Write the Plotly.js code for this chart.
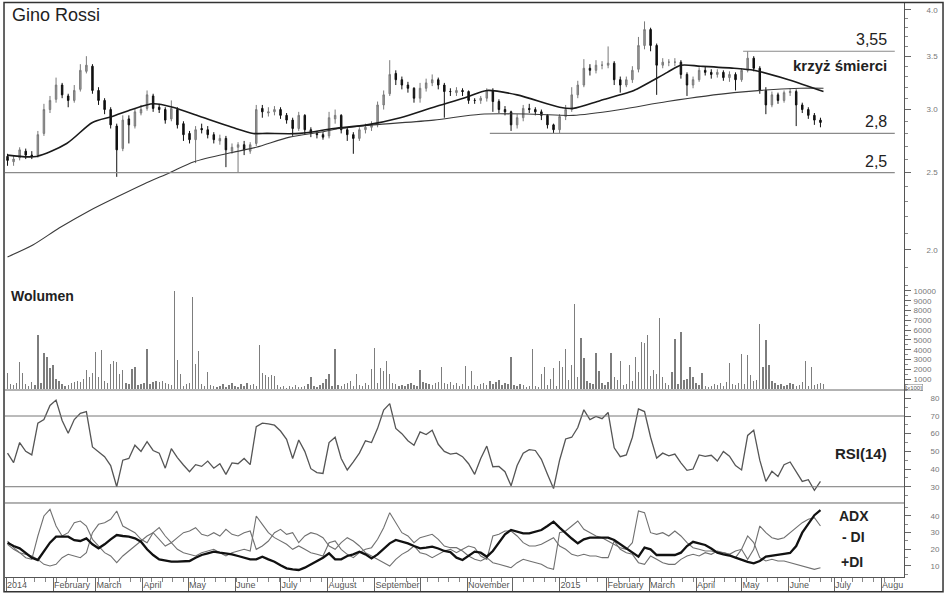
<!DOCTYPE html>
<html><head><meta charset="utf-8">
<script src="https://cdn.plot.ly/plotly-3.0.1.min.js"></script>
<style>html,body{margin:0;padding:0;background:#fff}#chart{width:948px;height:593px}</style>
</head><body><div id="chart"></div>
<script>
// ---- price bars (one bar per 4 calendar days from 2014-01-02) ----
const priceOpen = [2.62,2.58,2.61,2.66,2.63,2.63,2.80,3.00,3.09,3.22,
 3.12,3.08,3.18,3.35,3.40,3.17,3.08,3.00,2.86,2.68,
 2.92,2.86,2.97,3.01,3.12,3.02,3.00,2.92,3.00,2.88,
 2.80,2.75,2.84,2.83,2.79,2.74,2.76,2.66,2.69,2.71,
 2.66,2.72,3.01,2.97,2.98,3.00,2.95,2.91,2.84,2.95,
 2.83,2.80,2.79,2.78,2.92,2.95,2.83,2.79,2.76,2.83,
 2.85,2.88,3.04,3.14,3.33,3.27,3.22,3.19,3.10,3.19,
 3.24,3.27,3.22,3.16,3.15,3.17,3.16,3.08,3.08,3.10,
 3.17,3.07,3.00,2.98,2.87,2.93,3.01,3.00,2.98,2.95,
 2.87,2.83,2.94,3.00,3.13,3.22,3.38,3.36,3.41,3.41,
 3.43,3.27,3.22,3.27,3.37,3.61,3.78,3.61,3.41,3.44,
 3.44,3.44,3.32,3.22,3.27,3.36,3.34,3.32,3.34,3.29,
 3.32,3.27,3.36,3.48,3.38,3.17,3.04,3.13,3.08,3.15,
 3.16,3.04,3.00,2.95,2.91];
const priceHigh = [2.64,2.63,2.69,2.68,2.66,2.82,3.05,3.12,3.29,3.24,
 3.14,3.22,3.42,3.50,3.42,3.20,3.10,3.02,2.88,2.95,
 2.95,3.01,3.04,3.17,3.14,3.05,3.02,3.08,3.02,2.90,
 2.82,2.86,2.88,2.86,2.81,2.79,2.78,2.72,2.73,2.74,
 2.73,3.04,3.04,3.02,3.03,3.02,2.97,2.93,2.98,2.96,
 2.85,2.82,2.81,2.98,3.00,2.96,2.85,2.81,2.85,2.88,
 2.90,3.07,3.17,3.46,3.36,3.30,3.25,3.20,3.24,3.28,
 3.32,3.29,3.24,3.19,3.20,3.19,3.17,3.10,3.12,3.19,
 3.19,3.09,3.03,2.99,2.96,3.04,3.05,3.02,3.00,2.96,
 2.88,2.96,3.04,3.20,3.26,3.47,3.42,3.46,3.45,3.60,
 3.45,3.30,3.30,3.40,3.70,3.87,3.80,3.63,3.48,3.47,
 3.48,3.46,3.34,3.30,3.39,3.40,3.37,3.37,3.36,3.35,
 3.34,3.38,3.55,3.50,3.40,3.20,3.16,3.15,3.17,3.19,
 3.18,3.06,3.02,2.97,2.93];
const priceLow = [2.55,2.55,2.59,2.60,2.60,2.61,2.78,2.97,3.06,3.10,
 3.02,3.06,3.16,3.33,3.14,3.04,2.96,2.84,2.47,2.66,
 2.72,2.84,2.95,2.99,2.98,2.97,2.88,2.90,2.84,2.74,
 2.72,2.57,2.80,2.76,2.72,2.71,2.54,2.64,2.50,2.63,
 2.64,2.70,2.93,2.94,2.95,2.92,2.88,2.78,2.82,2.79,
 2.77,2.76,2.75,2.76,2.88,2.80,2.74,2.64,2.74,2.80,
 2.82,2.85,3.00,3.12,3.22,3.18,3.15,3.06,3.06,3.16,
 3.21,3.18,2.93,3.12,3.12,3.12,3.05,3.05,3.05,3.07,
 2.98,2.97,2.95,2.82,2.84,2.90,2.97,2.95,2.91,2.84,
 2.80,2.80,2.91,2.98,3.10,3.20,3.31,3.33,3.37,3.38,
 3.22,3.15,3.20,3.24,3.34,3.57,3.55,3.13,3.38,3.40,
 3.40,3.28,3.12,3.19,3.25,3.31,3.28,3.29,3.26,3.25,
 3.17,3.25,3.34,3.35,3.14,2.96,3.02,3.05,3.06,3.12,
 2.86,2.97,2.92,2.87,2.85];
const priceClose = [2.59,2.60,2.67,2.63,2.62,2.79,3.00,3.08,3.22,3.13,
 3.08,3.17,3.36,3.41,3.17,3.08,3.00,2.87,2.67,2.91,
 2.87,2.98,3.00,3.13,3.01,3.00,2.91,3.01,2.87,2.79,
 2.75,2.83,2.83,2.79,2.75,2.76,2.67,2.69,2.71,2.67,
 2.71,3.00,2.98,2.98,3.00,2.95,2.91,2.84,2.95,2.83,
 2.80,2.79,2.77,2.93,2.95,2.83,2.79,2.76,2.83,2.85,
 2.87,3.04,3.13,3.32,3.27,3.22,3.19,3.10,3.19,3.24,
 3.27,3.22,3.16,3.16,3.17,3.16,3.08,3.08,3.10,3.17,
 3.07,3.00,2.98,2.87,2.93,3.01,3.00,2.98,2.95,2.87,
 2.83,2.94,3.00,3.13,3.22,3.38,3.36,3.41,3.41,3.43,
 3.27,3.22,3.27,3.36,3.61,3.78,3.61,3.41,3.44,3.44,
 3.44,3.32,3.22,3.27,3.36,3.34,3.32,3.34,3.29,3.32,
 3.27,3.36,3.48,3.38,3.17,3.04,3.13,3.08,3.15,3.16,
 3.04,3.00,2.95,2.91,2.89];

// ---- moving averages ----
const maShortDates = ['2014-01-02','2014-01-21','2014-02-10','2014-02-27','2014-03-12','2014-03-25','2014-04-08','2014-04-21','2014-05-09','2014-05-30','2014-06-13','2014-06-22','2014-07-14','2014-08-05','2014-08-27','2014-09-18','2014-10-10','2014-11-01','2014-11-14','2014-12-04','2015-01-01','2015-01-10','2015-01-28','2015-02-10','2015-02-19','2015-03-13','2015-03-22','2015-04-04','2015-04-26','2015-05-09','2015-06-01','2015-06-24'];
const maShort = [2.63,2.62,2.72,2.89,2.94,3.00,3.05,3.02,2.94,2.85,2.80,2.80,2.80,2.84,2.87,2.93,3.02,3.11,3.17,3.13,3.02,3.01,3.08,3.13,3.17,3.34,3.41,3.40,3.38,3.36,3.27,3.16];
const maLongDates = ['2014-01-02','2014-01-19','2014-02-05','2014-02-25','2014-03-15','2014-04-02','2014-04-19','2014-05-05','2014-05-30','2014-06-15','2014-07-07','2014-07-27','2014-08-09','2014-08-31','2014-10-10','2014-11-10','2014-12-15','2015-01-10','2015-02-10','2015-03-13','2015-04-26','2015-06-09','2015-06-24'];
const maLong = [1.96,2.03,2.13,2.24,2.33,2.42,2.50,2.58,2.65,2.69,2.77,2.81,2.84,2.87,2.91,2.96,2.96,2.95,3.00,3.07,3.15,3.19,3.19];

// ---- horizontal levels on the price panel ----
const levelValues = [3.55, 2.8, 2.5];
const levelLabels = ['3,55', '2,8', '2,5'];
const levelStart = ['2015-05-02', '2014-11-16', '2013-12-31'];
const levelEnd = '2015-08-10';

// ---- volume (one bar per 2 calendar days from 2014-01-02), units x100 ----
const volume = [1600,500,400,600,2750,1600,500,300,700,400,
 5500,600,3650,3300,2100,2450,1000,800,500,300,
 400,600,700,800,700,1000,1900,1200,1600,3800,
 1200,4000,800,600,2600,2900,2750,1500,1900,600,
 500,2000,2200,400,500,600,4100,500,700,800,
 700,800,600,500,400,10000,3000,1500,300,500,
 600,9400,2600,3900,500,300,1700,400,300,200,
 300,500,200,400,600,300,200,500,300,600,
 400,500,300,4500,1600,1400,1200,1400,1300,400,
 200,300,150,300,200,400,250,200,300,500,
 1200,300,200,400,600,1000,1500,300,4100,400,
 300,500,600,800,300,1500,400,300,600,400,
 2000,4200,600,2100,1800,2900,1500,600,500,300,
 400,300,500,600,400,300,1900,700,600,500,
 400,600,700,2200,600,500,700,400,600,300,
 500,2300,300,1800,400,300,500,600,400,800,
 500,700,900,400,600,500,3300,400,300,500,
 400,200,300,4100,300,200,1500,2200,400,1000,
 2100,300,2900,2200,4100,900,2450,8700,1200,5200,
 3200,800,600,500,3700,1800,600,400,700,3700,
 1200,900,2900,400,500,2450,800,3250,1700,4800,
 4700,5500,1300,1900,1500,7200,1200,600,400,1700,
 5100,500,5800,900,1000,2200,1200,600,400,1600,
 300,200,300,500,400,600,300,700,2700,500,
 400,600,3600,500,3500,1400,800,900,6600,2200,
 5000,2400,800,600,400,500,300,400,600,500,
 300,400,700,2900,300,2200,400,500,600,500];

// ---- RSI(14) on the price-bar grid ----
const rsi = [49,43.6,55,50,48,66,68,76,79,67.5,
 60.2,68,71.5,72.5,52.5,49.5,47,42,30,45,
 46,53.5,50,55.5,50.5,49,40.5,51.5,46.5,42.3,
 38.5,42.5,41.5,44.5,40.5,43,37,43.5,43,46,
 42.5,64,66,65.6,64.8,61.5,56.8,46,56.4,50,
 40.2,38,37.5,55,58,46,39.5,44,49,56,
 55,63,73.4,77,63,60,56,53.5,61,59.5,
 62,54,50,48.5,49,47,43,37,46,53,
 41.3,41.5,38.5,30.5,42,49,51,50.5,45.5,37,
 29,45,57,58,63.5,73.5,68,69.8,68.5,72,
 52,47,48,58,74,72.5,58,46.2,49,47.5,
 48.5,43.5,39.3,40,48,47.2,47.8,44.5,50,47.3,
 42,39.5,59,62,45,33,38.7,35.8,42.5,44,
 38.5,33,34,28,33];
const rsiLevels = [70, 30];

// ---- ADX / DI on the price-bar grid ----
const adx = [24,22,20.6,18,15,13.6,18.6,24,27.6,27.6,
 27.6,25.5,25,26.6,23,20.6,23,26,28.6,28,
 27.6,26.6,24.6,20,16.6,14,13.2,12.6,12.6,12.6,
 13,15,16.6,17.6,18.6,18,17.6,17,16,15,
 14,14,15.6,14,12.6,10.5,8.6,8,7.6,9,
 11,12.6,15,17.6,14,14,16,17,18.6,17,
 14.6,17,20.6,23.6,25.6,24.6,23.6,22,20.6,21,
 21.6,20.5,19,18.3,15,13.6,16,18.6,18,15.6,
 19,24,29,31.6,30.5,29.6,29.6,30.5,31.6,34,
 36.6,33,29.6,26.5,23.6,26,27,27,27,27,
 25.6,23,20.5,18,15.6,21,20,16.6,16.6,16.6,
 16.6,18,22,24.5,23.5,22.6,20.5,18,17,16.3,
 15,13.6,12.5,11.6,13,15.6,16.3,16.8,17.3,17.8,
 22,30,35,40.5,43.5];
const diPlus = [25,21,18,15,14,28,40,44,34,28,
 30,36,37,34,26,22,18,16,12,16,
 19,22,25,28,30,26,22,24,20,18,
 17,16,18,19,20,18,16,18,19,20,
 19,40,35,30,27,25,23,20,22,20,
 18,17,16,24,25,20,17,15,18,20,
 21,26,33,42,36,30,28,24,27,28,
 29,26,22,21,21,19,16,14,13,15,
 12,11,10,9,12,14,13,12,11,9,
 8,30,31,34,37,32,30,28,27,25,
 23,21,20,24,43,42,30,29,30,28,
 31,28,24,21,20,19,19,18,18,17,
 15,20,28,24,15,13,14,13,13,12,
 11,10,9,8,9];
const diMinus = [23,20,18,17,16,14,11,10,11,15,
 17,16,15,18,30,35,36,38,43,34,
 32,30,26,24,30,33,28,24,27,30,
 31,33,29,28,30,28,32,29,28,30,
 31,20,22,25,30,32,29,30,24,28,
 30,29,27,22,20,24,27,25,22,18,
 16,14,12,10,14,17,19,22,18,17,
 15,17,19,20,18,20,22,21,16,14,
 28,29,31,31,28,24,22,22,23,25,
 27,22,20,17,16,17,16,16,15,15,
 25,20,18,17,12,11,16,14,12,11,
 11,14,16,17,16,18,17,19,18,17,
 19,20,14,20,34,30,27,26,27,30,
 33,36,38,39,34];

// ---- x axis ticks ----
const monthTicks = ['2014-01-01','2014-02-01','2014-03-01','2014-04-01','2014-05-01','2014-06-01','2014-07-01','2014-08-01','2014-09-01','2014-10-01','2014-11-01','2014-12-01','2015-01-01','2015-02-01','2015-03-01','2015-04-01','2015-05-01','2015-06-01','2015-07-01','2015-08-01'];
const monthLabels = ['2014','February','March','April','May','June','July','August','September','','November','','2015','February','March','April','May','June','July','Augu'];

// ---- build ----
function gridDates(n, stepDays) {
  const t0 = Date.UTC(2014, 0, 2);
  const out = [];
  for (let i = 0; i < n; i++) out.push(new Date(t0 + i * stepDays * 86400000).toISOString().slice(0, 10));
  return out;
}
const barDates = gridDates(priceClose.length, 4);
const volDates = gridDates(volume.length, 2);

const FONT = 'Liberation Sans, Arial, sans-serif';
const traces = [
  {type:'candlestick', x:barDates, open:priceOpen, high:priceHigh, low:priceLow, close:priceClose,
   xaxis:'x', yaxis:'y', whiskerwidth:0,
   increasing:{line:{color:'#7a7a7a', width:1}, fillcolor:'#9a9a9a'},
   decreasing:{line:{color:'#111', width:1}, fillcolor:'#111'}, hoverinfo:'skip'},
  {type:'scatter', mode:'lines', x:maLongDates, y:maLong, xaxis:'x', yaxis:'y',
   line:{color:'#3a3a3a', width:1.1, shape:'spline', smoothing:0.8}},
  {type:'scatter', mode:'lines', x:maShortDates, y:maShort, xaxis:'x', yaxis:'y',
   line:{color:'#1a1a1a', width:1.6, shape:'spline', smoothing:0.8}}
];
levelValues.forEach((v, k) => traces.push({type:'scatter', mode:'lines', x:[levelStart[k], levelEnd], y:[v, v],
  xaxis:'x', yaxis:'y', line:{color:'#8a8a8a', width:1.2}}));
traces.push({type:'bar', x:volDates, y:volume, xaxis:'x', yaxis:'y2', width:86400000*0.9,
  marker:{color:'#7d7d7d', line:{width:0}}});
traces.push({type:'scatter', mode:'lines', x:barDates, y:rsi, xaxis:'x', yaxis:'y3', line:{color:'#555', width:1.3}});
traces.push({type:'scatter', mode:'lines', x:barDates, y:diPlus, xaxis:'x', yaxis:'y4', line:{color:'#707070', width:1.1}});
traces.push({type:'scatter', mode:'lines', x:barDates, y:diMinus, xaxis:'x', yaxis:'y4', line:{color:'#707070', width:1.1}});
traces.push({type:'scatter', mode:'lines', x:barDates, y:adx, xaxis:'x', yaxis:'y4', line:{color:'#111', width:2.3}});

const yCommon = {side:'right', anchor:'x', showline:true, linecolor:'#555', linewidth:1, ticks:'outside', ticklen:6,
  tickcolor:'#666', tickfont:{family:FONT, size:8, color:'#777'}, showgrid:false, zeroline:false, fixedrange:true};

const shapes = [
  {type:'rect', xref:'paper', yref:'paper', x0:-0.0011, x1:1.0434, y0:-0.0255, y1:0.999, line:{color:'#333', width:1.5}},
  {type:'line', xref:'paper', yref:'y3 domain', x0:0, x1:1, y0:1, y1:1, line:{color:'#666', width:1}},
  {type:'line', xref:'paper', yref:'y4 domain', x0:0, x1:1, y0:1, y1:1, line:{color:'#666', width:1}}
];
rsiLevels.forEach(v => shapes.push({type:'line', xref:'x domain', yref:'y3', x0:0, x1:1, y0:v, y1:v, line:{color:'#777', width:1}}));

const bold = {family:FONT, size:15, color:'#222', weight:'bold'};
const annotations = [
  {text:'Gino Rossi', xref:'paper', yref:'paper', x:0.0056, y:0.977, xanchor:'left', yanchor:'middle', showarrow:false,
   font:{family:FONT, size:18, color:'#222'}},
  {text:'Wolumen', xref:'paper', yref:'paper', x:0.0045, y:0.4887, xanchor:'left', yanchor:'middle', showarrow:false,
   font:{family:FONT, size:14, color:'#222', weight:'bold'}},
  {text:'krzyż śmierci', xref:'x', yref:'y', x:'2015-08-06', y:Math.log10(3.41), xanchor:'right', yanchor:'middle', showarrow:false, font:bold},
  {text:'RSI(14)', xref:'x', yref:'y3', x:'2015-08-06', y:48.8, xanchor:'right', yanchor:'middle', showarrow:false, font:bold},
  {text:'ADX', xref:'x', yref:'y4', x:'2015-07-03', y:40, xanchor:'left', yanchor:'middle', showarrow:false, font:{...bold, size:14}},
  {text:'- DI', xref:'x', yref:'y4', x:'2015-07-05', y:27.4, xanchor:'left', yanchor:'middle', showarrow:false, font:{...bold, size:14}},
  {text:'+DI', xref:'x', yref:'y4', x:'2015-07-04', y:12.5, xanchor:'left', yanchor:'middle', showarrow:false, font:{...bold, size:14}},
  {text:'[x100]', xref:'paper', yref:'y2', x:1.001, y:150, xanchor:'left', yanchor:'middle', showarrow:false,
   font:{family:FONT, size:6, color:'#555'}, bordercolor:'#777', borderwidth:0.5, borderpad:0}
];
levelValues.forEach((v, k) => annotations.push({text:levelLabels[k], xref:'x', yref:'y', x:'2015-08-06', y:Math.log10(v),
  xanchor:'right', yanchor:'bottom', yshift:1, showarrow:false, font:{family:FONT, size:16, color:'#222'}}));

const layout = {
  width:948, height:593, margin:{l:5, r:44, t:2, b:16}, paper_bgcolor:'#fff', plot_bgcolor:'#fff',
  showlegend:false, boxgap:0.65, bargap:0, hovermode:false,
  xaxis:{type:'date', anchor:'y4', domain:[0,1], range:['2013-12-31 08:00','2015-08-16 02:00'], rangeslider:{visible:false},
    showline:true, linecolor:'#555', ticks:'outside', ticklen:14, tickcolor:'#666', tickvals:monthTicks, ticktext:monthLabels,
    ticklabelposition:'outside right', ticklabelstandoff:-1, tickfont:{family:FONT, size:9, color:'#555'},
    minor:{ticks:'outside', ticklen:4, dtick:7*86400000, tick0:'2014-01-06', tickcolor:'#888'},
    showgrid:false, zeroline:false, fixedrange:true},
  yaxis:{...yCommon, domain:[0.5078,1], type:'log', range:[Math.log10(1.807), Math.log10(4.093)],
    tickvals:[2,2.5,3,3.5,4], ticktext:['2.0','2.5','3.0','3.5','4.0'], ticklabelstandoff:14,
    minor:{tickvals:[1.9,2.1,2.2,2.3,2.4,2.6,2.7,2.8,2.9,3.1,3.2,3.3,3.4,3.6,3.7,3.8,3.9], ticks:'outside', ticklen:3, tickcolor:'#888'}},
  yaxis2:{...yCommon, domain:[0.3252,0.5078], range:[-100,10600],
    tickvals:[1000,2000,3000,4000,5000,6000,7000,8000,9000,10000], ticklabelstandoff:1,
    tickformat:'d', minor:{dtick:500, ticks:'outside', ticklen:3, tickcolor:'#888'}},
  yaxis3:{...yCommon, domain:[0.1287,0.3252], range:[20.8,84.7], tickvals:[30,40,50,60,70,80], ticklabelstandoff:18,
    minor:{dtick:5, ticks:'outside', ticklen:3, tickcolor:'#888'}},
  yaxis4:{...yCommon, domain:[0,0.1287], range:[3.4,47.8], tickvals:[10,20,30,40], ticklabelstandoff:18,
    minor:{dtick:5, ticks:'outside', ticklen:3, tickcolor:'#888'}},
  shapes:shapes, annotations:annotations
};
Plotly.newPlot('chart', traces, layout, {staticPlot:true, displayModeBar:false});
</script></body></html>
